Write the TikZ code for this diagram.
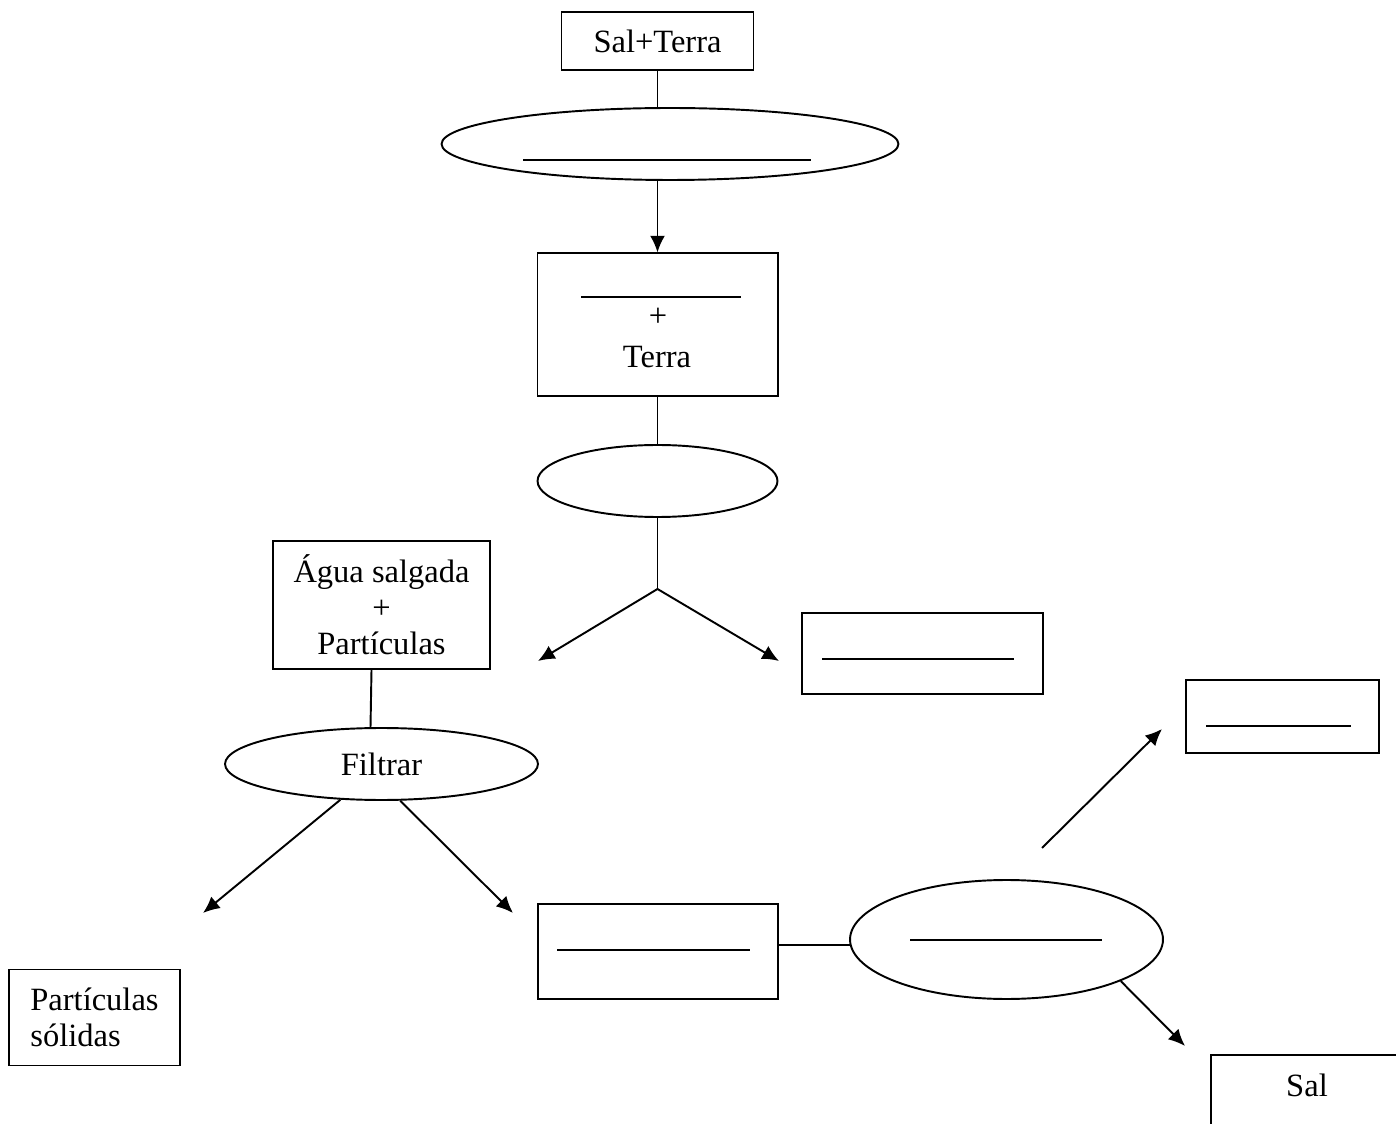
\documentclass[tikz,border=0pt]{standalone}
\usepackage{fontspec}
\setmainfont{Liberation Serif}
\usetikzlibrary{shapes}
\usetikzlibrary{arrows.meta}
\tikzset{>={Latex[length=9.5pt,width=8.5pt]}}
\tikzset{
  box/.style={draw, rectangle, line width=1.1pt, inner sep=0pt},
  oval/.style={draw, ellipse, line width=1.1pt, inner sep=0pt},
  blank/.style={line width=0.8pt},
  flow/.style={line width=1.1pt},
}

\begin{document}
\begin{tikzpicture}[x=0.02cm, y=-0.02cm, font=\fontsize{18.5}{20.5}\selectfont]
  \useasboundingbox (0,0) rectangle (1396,1124);

  % Top: mixture and first step
  \node[box, minimum width=3.84cm, minimum height=1.16cm] (mix0) at (657.5,41) {Sal+Terra};
  \node[oval, minimum width=9.14cm, minimum height=1.44cm] (step1) at (670,144) {};
  \draw[blank] (523,160) -- (811,160);
  \draw[flow] (mix0.south) -- (mix0.south |- step1.north);

  \node[box, line width=0.6pt, minimum width=4.82cm, minimum height=2.86cm] (mix1) at (657.5,324.5) {};
  \draw[blank] (581,297) -- (741,297);
  \node (plus1) at (658,317) {+};
  \node (terra) at (657,357) {Terra};
  \draw[flow,->] (mix1.north |- step1.south) -- (mix1.north);

  % Second step and split
  \node[oval, minimum width=4.8cm, minimum height=1.44cm] (step2) at (657.5,481) {};
  \draw[flow] (mix1.south) -- (step2.north);
  \coordinate (fork) at (657.5,589);
  \coordinate (left1) at (538,661);
  \coordinate (right1) at (779,661);
  \draw[flow] (step2.south) -- (fork);
  \draw[flow,->] (fork) -- (left1);
  \draw[flow,->] (fork) -- (right1);
  \node[box, minimum width=4.82cm, minimum height=1.62cm] (res1) at (922.5,653.5) {};
  \draw[blank] (822,659) -- (1014,659);

  % Filtering
  \node[box, align=center, minimum width=4.34cm, minimum height=2.56cm] (salt) at (381.5,605) {Água salgada\\+\\Partículas};
  \node[oval, minimum width=6.26cm, minimum height=1.44cm] (filter) at (381.5,764) {Filtrar};
  \draw[flow] ([xshift=-0.2cm]salt.south) -- ([xshift=-0.22cm]filter.north);
  \coordinate (solid) at (203,913);
  \coordinate (liquid) at (513,913);
  \draw[flow,->] (filter.221) -- (solid);
  \draw[flow,->] (filter.297) -- (liquid);
  \node[box, align=left, minimum width=3.42cm, minimum height=1.92cm] (solids) at (94.5,1017.5) {Partículas\\sólidas};

  % Last step
  \node[box, minimum width=4.8cm, minimum height=1.9cm] (res2) at (658,951.5) {};
  \draw[blank] (557,950) -- (750,950);
  \node[oval, minimum width=6.26cm, minimum height=2.38cm] (step3) at (1006.5,939.5) {};
  \draw[blank] (910,940) -- (1102,940);
  \draw[flow] (step3.182) -- (step3.182 -| res2.east);

  \coordinate (up) at (1042,848);
  \coordinate (upend) at (1162,729);
  \draw[flow,->] (up) -- (upend);
  \node[box, minimum width=3.86cm, minimum height=1.46cm] (res3) at (1282.5,716.5) {};
  \draw[blank] (1206,726) -- (1351,726);

  \coordinate (down) at (1185,1046);
  \draw[flow,->] (step3.340) -- (down);
  \begin{scope}
    \clip (0,0) rectangle (1396,1124);
    \node[box, anchor=north west, minimum width=4.8cm, minimum height=2.4cm] (salbox) at (1210,1054) {};
  \end{scope}
  \node (sal) at (1307,1085) {Sal};

\end{tikzpicture}
\end{document}
